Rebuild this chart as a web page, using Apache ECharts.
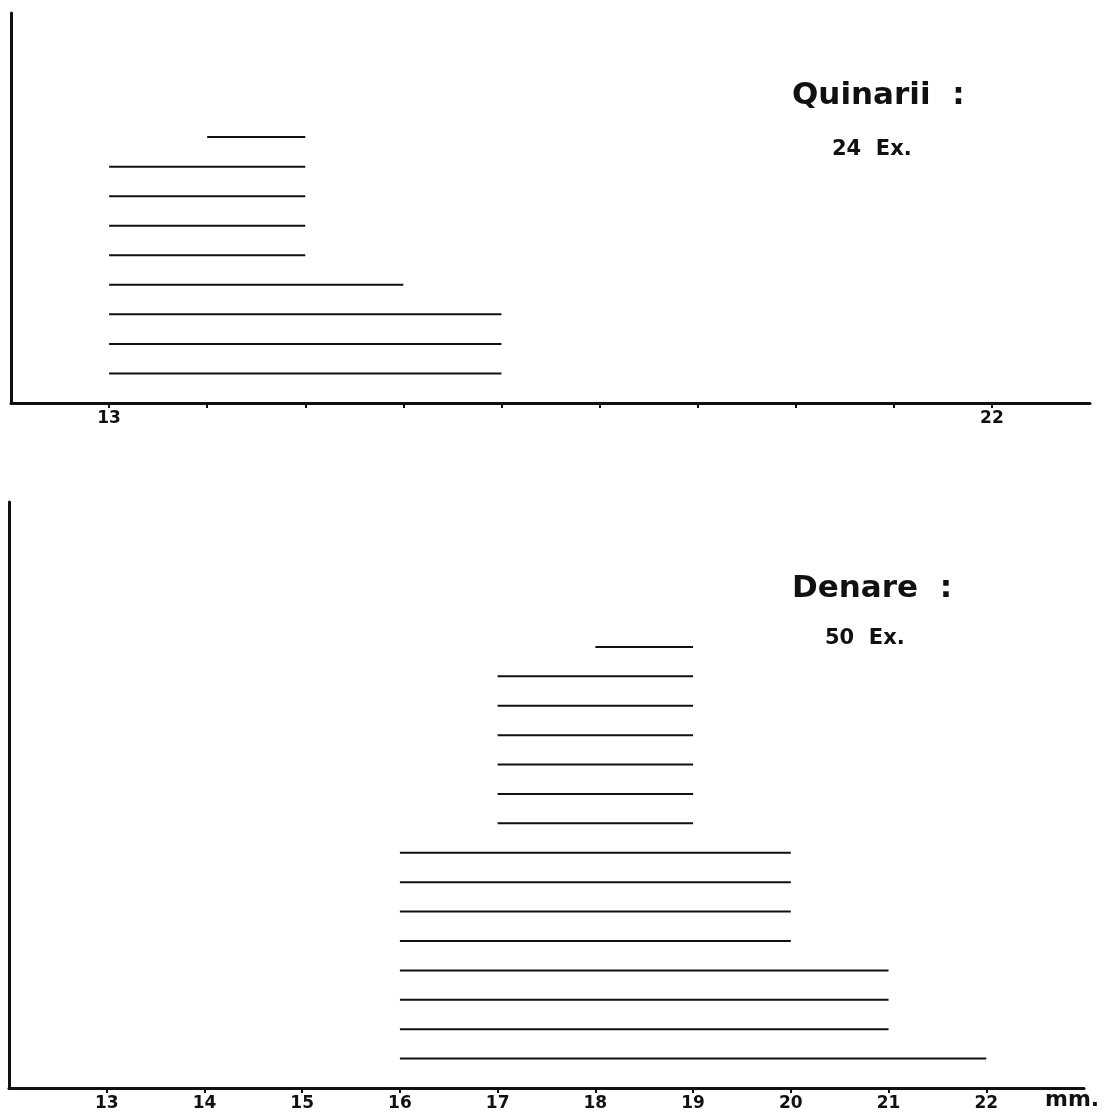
<!DOCTYPE html>
<html>
<head>
<meta charset="utf-8">
<script src="https://cdn.jsdelivr.net/npm/echarts@6/dist/echarts.min.js"></script>
<style>
html,body{margin:0;padding:0;background:#fff;}
#c{width:1106px;height:1113px;}
</style>
</head>
<body>
<div id="c"></div>
<script>
// Quinarii (top panel): each row is one diameter range [start, end] in mm, bottom row first
const quinStart = [13, 13, 13, 13, 13, 13, 13, 13, 14];
const quinEnd   = [17, 17, 17, 16, 15, 15, 15, 15, 15];
// Denare (bottom panel)
const denStart = [16, 16, 16, 16, 16, 16, 16, 16, 17, 17, 17, 17, 17, 17, 18];
const denEnd   = [22, 21, 21, 21, 20, 20, 20, 20, 19, 19, 19, 19, 19, 19, 19];
// axis ticks and labels
const tickValues = [13, 14, 15, 16, 17, 18, 19, 20, 21, 22];
const topLabels = [13, 22];
const bottomLabels = [13, 14, 15, 16, 17, 18, 19, 20, 21, 22];
const titleTop = 'Quinarii  :';
const countTop = '24  Ex.';
const titleBottom = 'Denare  :';
const countBottom = '50  Ex.';
const unitLabel = 'mm.';

function rows(starts, ends) {
  return starts.map((s, i) => [s, ends[i], i + 1]);
}

function renderSeg(params, api) {
  const a = api.coord([api.value(0), api.value(2)]);
  const b = api.coord([api.value(1), api.value(2)]);
  return {
    type: 'line',
    shape: { x1: a[0], y1: a[1], x2: b[0], y2: b[1] },
    style: { stroke: '#111', lineWidth: 2 }
  };
}

const labelFont = "'DejaVu Sans', sans-serif";

function xAxisCfg(gridIndex, labels) {
  return {
    type: 'value', gridIndex: gridIndex, min: 12, max: 23,
    splitLine: { show: false },
    axisLine: { show: true, lineStyle: { color: '#111', width: 3 } },
    axisTick: { show: true, customValues: tickValues, length: 5, lineStyle: { color: '#111', width: 2 } },
    axisLabel: { show: true, customValues: labels, color: '#111', fontSize: 17, fontWeight: 'bold', fontFamily: labelFont, margin: 7 }
  };
}
function yAxisCfg(gridIndex, max) {
  return {
    type: 'value', gridIndex: gridIndex, min: 0, max: max,
    splitLine: { show: false },
    axisLine: { show: true, lineStyle: { color: '#111', width: 3 } },
    axisTick: { show: false },
    axisLabel: { show: false }
  };
}

const chart = echarts.init(document.getElementById('c'), null, { renderer: 'canvas' });
chart.setOption({
  backgroundColor: '#fff',
  animation: false,
  grid: [
    { left: 11, right: 16, top: 13, height: 390 },
    { left: 9, right: 22, top: 502, height: 586 }
  ],
  xAxis: [xAxisCfg(0, topLabels), xAxisCfg(1, bottomLabels)],
  yAxis: [yAxisCfg(0, 13.2), yAxisCfg(1, 19.93)],
  series: [
    { type: 'custom', xAxisIndex: 0, yAxisIndex: 0, renderItem: renderSeg,
      encode: { x: [0, 1], y: 2 }, data: rows(quinStart, quinEnd) },
    { type: 'custom', xAxisIndex: 1, yAxisIndex: 1, renderItem: renderSeg,
      encode: { x: [0, 1], y: 2 }, data: rows(denStart, denEnd) }
  ],
  graphic: [
    { type: 'text', left: 792, top: 80, style: { text: titleTop, font: "bold 31px 'DejaVu Sans', sans-serif", fill: '#111' } },
    { type: 'text', left: 832, top: 139, style: { text: countTop, font: "bold 21px 'DejaVu Sans', sans-serif", fill: '#111' } },
    { type: 'text', left: 792, top: 573, style: { text: titleBottom, font: "bold 31px 'DejaVu Sans', sans-serif", fill: '#111' } },
    { type: 'text', left: 825, top: 628, style: { text: countBottom, font: "bold 21px 'DejaVu Sans', sans-serif", fill: '#111' } },
    { type: 'text', left: 1045, top: 1089, style: { text: unitLabel, font: "bold 22px 'DejaVu Sans', sans-serif", fill: '#111' } }
  ]
});
</script>
</body>
</html>
